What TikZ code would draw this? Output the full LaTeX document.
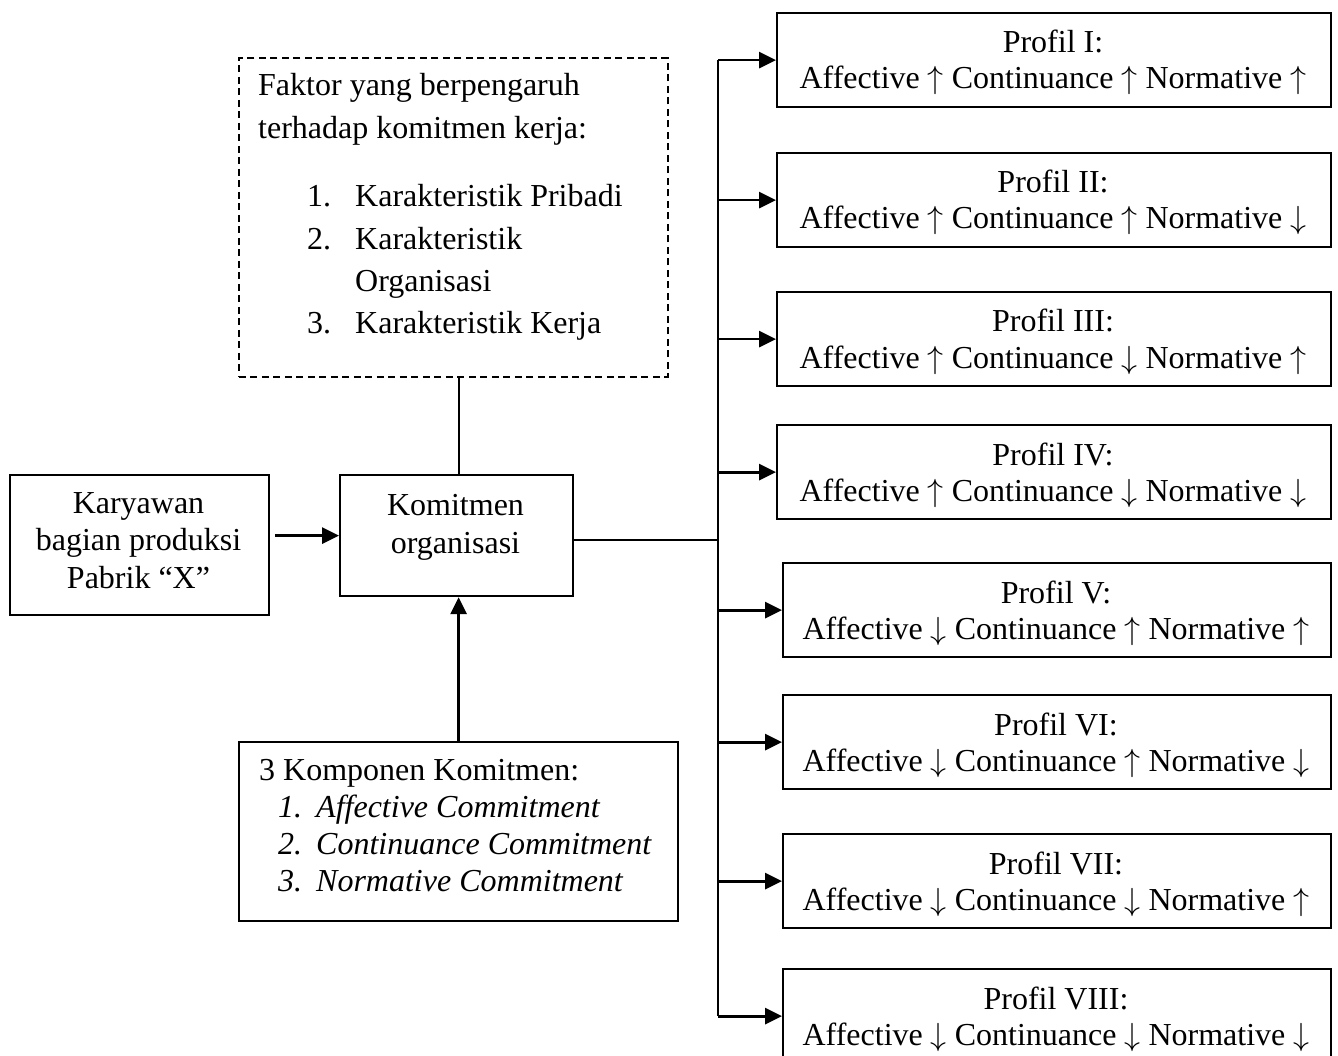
\RequirePackage{fix-cm}
\documentclass[tikz,border=0pt]{standalone}
\usepackage{fontspec}
\setmainfont{Liberation Serif}
\usetikzlibrary{arrows.meta,calc}
\tikzset{
  boxnode/.style={draw, line width=2.2pt, rectangle, inner sep=0pt, anchor=north west},
  dashbox/.style={draw, line width=1.8pt, dash pattern=on 7pt off 4.5pt, rectangle, inner sep=0pt, anchor=north west},
  txt/.style={inner sep=0pt, anchor=base, font=\fontsize{32pt}{37pt}\selectfont},
  txtl/.style={inner sep=0pt, anchor=base west, font=\fontsize{32pt}{37pt}\selectfont},
  conn/.style={line width=2.2pt},
  arr/.style={line width=2.8pt, -{Triangle[length=17pt,width=16pt]}}
}
\newcommand{\upa}{$\uparrow$}
\newcommand{\dna}{$\downarrow$}
\begin{document}
\begin{tikzpicture}[x=1pt,y=-1pt]
\useasboundingbox (0,0) rectangle (1338,1056);

% left part boxes
\node[dashbox, minimum width=429pt, minimum height=319pt] (faktor) at (238,57) {};
\node[boxnode, minimum width=259pt, minimum height=140pt] (kary) at (9,474) {};
\node[boxnode, minimum width=233pt, minimum height=121pt] (komit) at (339,474) {};
\node[boxnode, minimum width=439pt, minimum height=179pt] (komp) at (238,741) {};

% dashed box text
\node[txtl] (f1) at (258,96) {Faktor yang berpengaruh};
\node[txtl] (f2) at (258,139) {terhadap komitmen kerja:};
\node[txtl] (f3n) at (307,207) {1.};
\node[txtl] (f3) at (355,207) {Karakteristik Pribadi};
\node[txtl] (f4n) at (307,250) {2.};
\node[txtl] (f4) at (355,250) {Karakteristik};
\node[txtl] (f5) at (355,292) {Organisasi};
\node[txtl] (f6n) at (307,334) {3.};
\node[txtl] (f6) at (355,334) {Karakteristik Kerja};

% Karyawan text
\node[txt] (k1) at (138.5,513) {Karyawan};
\node[txt] (k2) at (138.5,550) {bagian produksi};
\node[txt] (k3) at (138.5,588) {Pabrik “X”};

% Komitmen text
\node[txt] (o1) at (455.5,515) {Komitmen};
\node[txt] (o2) at (455.5,553) {organisasi};

% Komponen text
\node[txtl] (c0) at (259,780) {3 Komponen Komitmen:};
\node[txtl] (c1n) at (278,817) {\itshape 1.};
\node[txtl] (c1) at (316,817) {\itshape Affective Commitment};
\node[txtl] (c2n) at (278,854) {\itshape 2.};
\node[txtl] (c2) at (316,854) {\itshape Continuance Commitment};
\node[txtl] (c3n) at (278,891) {\itshape 3.};
\node[txtl] (c3) at (316,891) {\itshape Normative Commitment};

% trunk junction
\coordinate (tj) at (718,540);

% profile boxes
\foreach \i/\lx/\ty/\nm/\line in {
  1/776/12/I/{Affective \upa{} Continuance \upa{} Normative \upa},
  2/776/152/II/{Affective \upa{} Continuance \upa{} Normative \dna},
  3/776/291/III/{Affective \upa{} Continuance \dna{} Normative \upa},
  4/776/424/IV/{Affective \upa{} Continuance \dna{} Normative \dna},
  5/782/562/V/{Affective \dna{} Continuance \upa{} Normative \upa},
  6/782/694/VI/{Affective \dna{} Continuance \upa{} Normative \dna},
  7/782/833/VII/{Affective \dna{} Continuance \dna{} Normative \upa},
  8/782/968/VIII/{Affective \dna{} Continuance \dna{} Normative \dna}}
{
  \pgfmathsetmacro{\w}{1330-\lx}
  \pgfmathsetmacro{\cx}{(1330+\lx)/2}
  \pgfmathsetmacro{\ya}{\ty+41}
  \pgfmathsetmacro{\yb}{\ty+77}
  \node[boxnode, minimum width=\w pt, minimum height=94pt] (p\i) at (\lx,\ty) {};
  \node[txt] (p\i-a) at (\cx,\ya) {Profil \nm:};
  \node[txt] (p\i-b) at (\cx,\yb) {\line};
  \draw[arr] (p\i.west -| tj) -- (p\i.west);
}

% connectors
\draw[conn] (p1.west -| tj) -- (p8.west -| tj);
\draw[conn] (tj -| komit.east) -- (tj);
\draw[arr] ([xshift=5pt]kary.east |- komit.west) -- (komit.west);
\draw[arr] (komp.north) -- (komp.north |- komit.south);
\draw[conn] (komp.north |- faktor.south) -- (komp.north |- komit.north);
\end{tikzpicture}
\end{document}
